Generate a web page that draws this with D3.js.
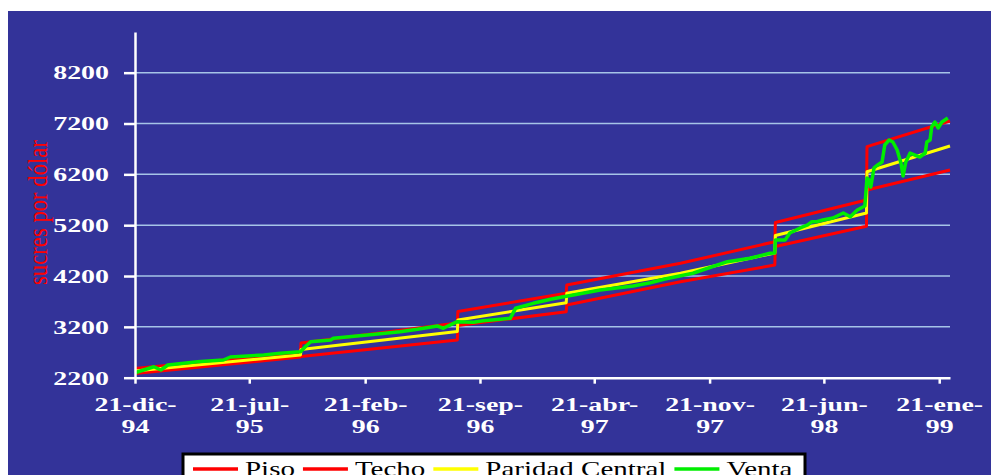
<!DOCTYPE html>
<meta charset="utf-8">
<style>
    body {
        margin: 0;
        background-color: #fff;
    }

    svg {
        display: block;
        font-family: "Liberation Serif", "Times New Roman", serif;
    }

    .axis .domain,
    .axis .tick line {
        stroke: #fff;
        stroke-width: 2.5;
    }

    .tickLabel {
        fill: #fff;
        font-family: "Liberation Serif", "Times New Roman", serif;
        font-weight: bold;
        font-size: 18px;
    }
</style>

<body>
    <script src="https://cdn.jsdelivr.net/npm/d3@7"></script>
    <script>
        // banda cambiaria: piso, techo, paridad central y venta (sucres por dolar)
        var pisoData = [
            ["1994-12-21", 2283], ["1995-10-24", 2607],
            ["1995-10-25", 2617], ["1996-08-10", 2942],
            ["1996-08-11", 3227], ["1997-02-28", 3498],
            ["1997-03-01", 3630], ["1997-09-28", 4088], ["1998-03-22", 4417],
            ["1998-03-23", 4781], ["1998-09-08", 5178],
            ["1998-09-09", 5892], ["1999-02-10", 6285]
        ];

        var techoData = [
            ["1994-12-21", 2381], ["1995-10-24", 2700],
            ["1995-10-25", 2883], ["1996-08-10", 3276],
            ["1996-08-11", 3502], ["1997-02-28", 3860],
            ["1997-03-01", 4023], ["1997-09-28", 4450], ["1998-03-22", 4875],
            ["1998-03-23", 5253], ["1998-09-08", 5695],
            ["1998-09-09", 6744], ["1999-02-10", 7249]
        ];

        var paridadData = [
            ["1994-12-21", 2332], ["1995-10-24", 2647],
            ["1995-10-25", 2755], ["1996-08-10", 3109],
            ["1996-08-11", 3335], ["1997-02-28", 3675],
            ["1997-03-01", 3860], ["1997-09-28", 4254], ["1998-03-22", 4653],
            ["1998-03-23", 4997], ["1998-09-08", 5440],
            ["1998-09-09", 6252], ["1999-02-10", 6758]
        ];

        var ventaData = [
            ["1994-12-21", 2298], ["1995-01-25", 2416], ["1995-02-07", 2351], ["1995-02-20", 2450],
            ["1995-04-16", 2515], ["1995-06-03", 2548], ["1995-06-16", 2607], ["1995-08-17", 2647],
            ["1995-09-17", 2680], ["1995-10-24", 2711], ["1995-11-02", 2810], ["1995-11-12", 2908],
            ["1995-12-19", 2942], ["1995-12-24", 2975], ["1996-02-25", 3040], ["1996-04-26", 3105],
            ["1996-05-28", 3152], ["1996-07-04", 3217], ["1996-07-15", 3172], ["1996-08-03", 3270],
            ["1996-08-10", 3302], ["1996-09-09", 3290], ["1996-09-27", 3321], ["1996-10-29", 3349],
            ["1996-11-16", 3368], ["1996-11-26", 3565], ["1996-12-29", 3663], ["1997-01-30", 3742],
            ["1997-02-23", 3793], ["1997-03-13", 3827], ["1997-05-02", 3925], ["1997-07-02", 4004],
            ["1997-08-03", 4069], ["1997-08-30", 4141], ["1997-10-21", 4254], ["1997-12-24", 4482],
            ["1998-02-04", 4549], ["1998-03-13", 4647], ["1998-03-22", 4653], ["1998-03-23", 4909],
            ["1998-04-10", 4909], ["1998-04-19", 5046], ["1998-05-08", 5145], ["1998-05-22", 5204],
            ["1998-05-30", 5269], ["1998-06-08", 5269], ["1998-06-19", 5302], ["1998-07-08", 5341],
            ["1998-07-27", 5440], ["1998-08-09", 5367], ["1998-08-22", 5499], ["1998-09-05", 5577],
            ["1998-09-09", 6128], ["1998-09-13", 6089], ["1998-09-16", 5951], ["1998-09-22", 6325],
            ["1998-09-29", 6384], ["1998-10-07", 6443], ["1998-10-12", 6777], ["1998-10-20", 6876],
            ["1998-10-27", 6836], ["1998-11-04", 6679], ["1998-11-11", 6423], ["1998-11-15", 6167],
            ["1998-11-20", 6443], ["1998-11-28", 6620], ["1998-12-07", 6580], ["1998-12-16", 6541],
            ["1998-12-26", 6620], ["1998-12-29", 6836], ["1999-01-04", 6876], ["1999-01-07", 7131],
            ["1999-01-13", 7230], ["1999-01-19", 7112], ["1999-01-26", 7230], ["1999-02-06", 7308]
        ];

        var yTicks = [2200, 3200, 4200, 5200, 6200, 7200, 8200];
        var xTickDates = ["1994-12-21", "1995-07-21", "1996-02-21", "1996-09-21",
            "1997-04-21", "1997-11-21", "1998-06-21", "1999-01-21"];
        var xTickLabels = [["21-dic-", "94"], ["21-jul-", "95"], ["21-feb-", "96"], ["21-sep-", "96"],
            ["21-abr-", "97"], ["21-nov-", "97"], ["21-jun-", "98"], ["21-ene-", "99"]];
        var seriesNames = ["Piso", "Techo", "Paridad Central", "Venta"];
        var seriesColors = ["#ff0000", "#ff0000", "#ffff00", "#00ee00"];

        var width = 991,
            height = 475,
            stretchK = 1.55;

        var parse = d3.timeParse("%Y-%m-%d");

        function stretch(sel, k) {
            sel.each(function() {
                var w = this.getComputedTextLength();
                d3.select(this)
                    .attr("textLength", w * k)
                    .attr("lengthAdjust", "spacingAndGlyphs");
            });
        }

        var svg = d3.select("body").append("svg")
            .attr("width", width)
            .attr("height", height);

        svg.append("rect")
            .attr("x", 8)
            .attr("y", 11)
            .attr("width", width - 8)
            .attr("height", height - 11)
            .attr("fill", "#333399");

        var x = d3.scaleTime()
            .domain([parse("1994-12-21"), parse("1999-02-10")])
            .range([135, 950]);

        var y = d3.scaleLinear()
            .domain([2200, 9000])
            .range([377.7, 32]);

        // gridlines
        svg.append("g")
            .selectAll("line")
            .data(yTicks.slice(1))
            .enter().append("line")
            .attr("x1", x.range()[0])
            .attr("x2", x.range()[1])
            .attr("y1", d => y(d))
            .attr("y2", d => y(d))
            .attr("stroke", "#a6c4e8")
            .attr("stroke-width", 1.5);

        // series
        var line = d3.line()
            .x(d => x(parse(d[0])))
            .y(d => y(d[1]));

        var allSeries = [pisoData, techoData, paridadData, ventaData];
        var widths = [3, 3, 3, 3.5];

        allSeries.forEach(function(s, i) {
            svg.append("path")
                .datum(s)
                .attr("d", line)
                .attr("fill", "none")
                .attr("stroke", seriesColors[i])
                .attr("stroke-width", widths[i])
                .attr("stroke-linejoin", "round");
        });

        // y axis
        var yAxisG = svg.append("g")
            .attr("class", "axis")
            .attr("transform", "translate(135,0)")
            .call(d3.axisLeft(y)
                .tickValues(yTicks)
                .tickSize(11)
                .tickSizeOuter(0)
                .tickPadding(15)
                .tickFormat(d3.format("d")));

        yAxisG.selectAll(".tick text")
            .attr("class", "tickLabel")
            .attr("fill", "#fff")
            .attr("dy", "0.35em")
            .call(stretch, stretchK);

        // x axis
        var xAxisG = svg.append("g")
            .attr("class", "axis")
            .attr("transform", "translate(0,377.7)")
            .call(d3.axisBottom(x)
                .tickValues(xTickDates.map(parse))
                .tickSize(6)
                .tickSizeOuter(0)
                .tickFormat(""));

        xAxisG.selectAll(".tick text").remove();
        xAxisG.selectAll(".tick").each(function(d, i) {
            var g = d3.select(this);
            xTickLabels[i].forEach(function(t, j) {
                g.append("text")
                    .attr("class", "tickLabel")
                    .attr("text-anchor", "middle")
                    .attr("y", 33 + j * 22.5)
                    .text(t)
                    .call(stretch, stretchK);
            });
        });

        xAxisG.select(".domain").raise();

        // y title (stretched horizontally like the rest of the picture)
        svg.append("text")
            .attr("transform", "translate(47,212.5) scale(1.45,1) rotate(-90)")
            .attr("text-anchor", "middle")
            .attr("fill", "#ff0000")
            .style("font-size", "19px")
            .attr("textLength", 145)
            .attr("lengthAdjust", "spacingAndGlyphs")
            .text("sucres por dólar");

        // legend
        var legend = svg.append("g");

        legend.append("rect")
            .attr("x", 183)
            .attr("y", 454)
            .attr("width", 622)
            .attr("height", 40)
            .attr("fill", "#fff")
            .attr("stroke", "#000")
            .attr("stroke-width", 3);

        var cx = 193;
        seriesNames.forEach(function(name, i) {
            legend.append("line")
                .attr("x1", cx)
                .attr("x2", cx + 45)
                .attr("y1", 469)
                .attr("y2", 469)
                .attr("stroke", seriesColors[i])
                .attr("stroke-width", 3.5);

            var t = legend.append("text")
                .attr("x", cx + 52)
                .attr("y", 476)
                .attr("fill", "#000")
                .style("font-size", "21px")
                .text(name);
            var w = t.node().getComputedTextLength() * 1.38;
            t.attr("textLength", w).attr("lengthAdjust", "spacingAndGlyphs");
            cx += 52 + w + 8;
        });
    </script>
</body>

</html>
